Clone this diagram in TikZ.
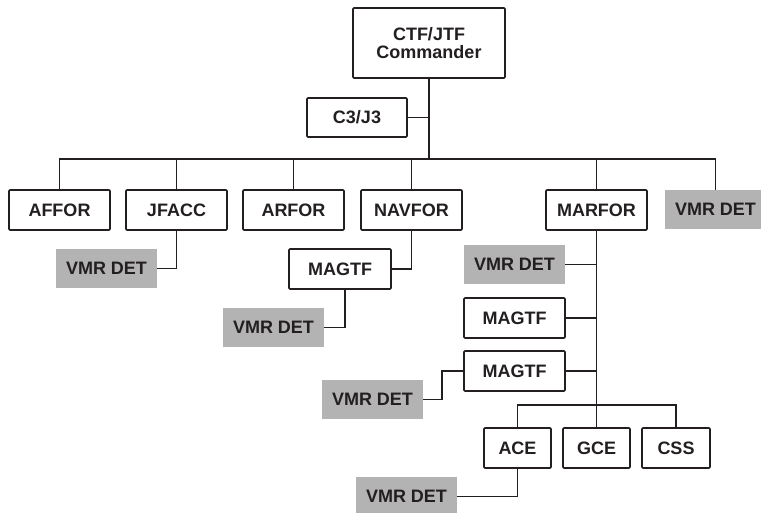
\documentclass[tikz,border=0pt]{standalone}
\usepackage{fontspec}
\setmainfont{Liberation Sans}
\definecolor{ink}{HTML}{231F20}
\definecolor{vmrgray}{HTML}{B3B3B3}
\begin{document}
\begin{tikzpicture}[x=1pt,y=-1pt,
  boxfont/.style={font=\bfseries\fontsize{18}{18}\selectfont, text=ink},
  box/.style={boxfont, draw=ink, line width=1.7pt, rounded corners=1pt, fill=white,
    minimum width=101pt, minimum height=40pt, inner sep=0pt},
  vmrbox/.style={boxfont, fill=vmrgray, minimum width=101pt, minimum height=39pt, inner sep=0pt},
  link/.style={draw=ink, line width=1.7pt}]
\useasboundingbox (0,0) rectangle (761,513);
\fill[white] (0,0) rectangle (761,513);

% nodes
\node[box, minimum width=152pt, minimum height=70pt, align=center,
  font=\bfseries\fontsize{18}{18}\selectfont] (ctf) at (429,43) {CTF/JTF\\Commander};
\node[box, minimum width=100pt, minimum height=39pt] (c3) at (357,117.5) {C3/J3};
\node[box] (affor) at (59.5,210) {AFFOR};
\node[box] (jfacc) at (176.5,210) {JFACC};
\node[box] (arfor) at (293.5,210) {ARFOR};
\node[box] (navfor) at (411.5,210) {NAVFOR};
\node[box] (marfor) at (596.5,210) {MARFOR};
\node[vmrbox] (vmrA) at (715.5,209.5) {VMR DET};
\node[vmrbox] (vmrJ) at (106.5,268.5) {VMR DET};
\node[box, minimum width=102pt] (magN) at (340,269) {MAGTF};
\node[vmrbox] (vmrN) at (273.5,327.5) {VMR DET};
\node[vmrbox] (vmrM) at (514.5,264.5) {VMR DET};
\node[box] (magM1) at (514.5,318) {MAGTF};
\node[box] (magM2) at (514.5,371) {MAGTF};
\node[vmrbox] (vmrM2) at (372.5,399.5) {VMR DET};
\node[box, minimum width=67pt] (ace) at (517.5,448) {ACE};
\node[box, minimum width=67pt] (gce) at (596.5,448) {GCE};
\node[box, minimum width=68pt] (css) at (676,448) {CSS};
\node[vmrbox] (vmrB) at (406.5,496.5) {VMR DET};

% connectors
\coordinate (bus) at (429,159);
\coordinate (sub) at (596.5,405);
\draw[link] (ctf.south) -- (bus);
\draw[link] (c3.east) -- (c3.east -| ctf.south);
\draw[link] (affor.north) |- (bus) -| (vmrA.north);
\foreach \n in {jfacc,arfor,navfor,marfor}
  \draw[link] (\n.north) -- (\n.north |- bus);
\draw[link] (jfacc.south) |- (vmrJ.east);
\draw[link] (navfor.south) |- (magN.east);
\draw[link] ([xshift=5pt]magN.south) |- (vmrN.east);
\draw[link] (marfor.south) -- (sub);
\draw[link] (vmrM.east) -- (vmrM.east -| marfor.south);
\draw[link] (magM1.east) -- (magM1.east -| marfor.south);
\draw[link] (magM2.east) -- (magM2.east -| marfor.south);
\draw[link] (magM2.west) -- ++(-21,0) |- (vmrM2.east);
\draw[link] (ace.north) |- (sub) -| (css.north);
\draw[link] (gce.north) -- (sub);
\draw[link] (ace.south) |- (vmrB.east);
\end{tikzpicture}
\end{document}
